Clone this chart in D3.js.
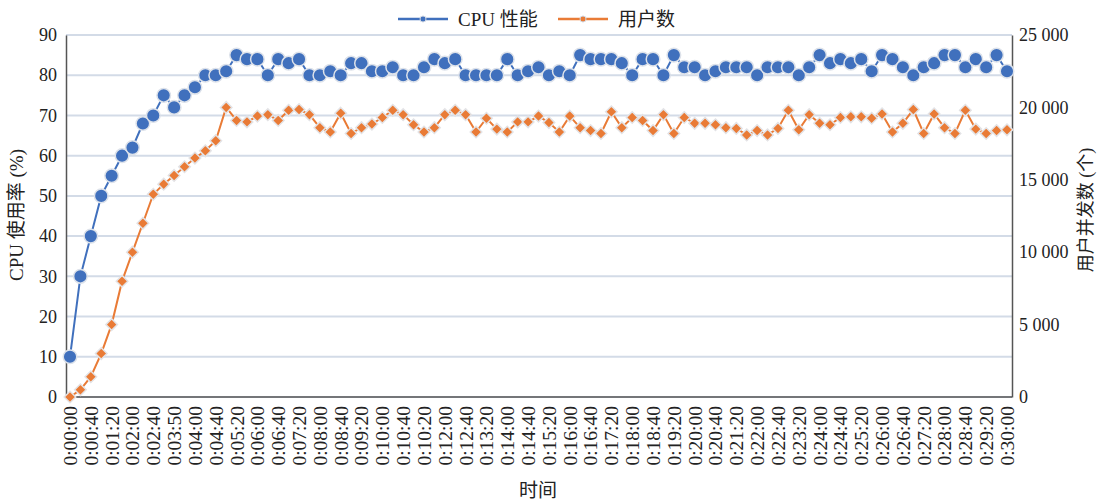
<!DOCTYPE html>
<html>
<head>
<meta charset="utf-8">
<script src="https://cdn.jsdelivr.net/npm/d3@7"></script>
<style>
  body { margin: 0; background: #fff; }
  svg text { font-family: "Liberation Serif", "Noto Sans CJK SC", serif; fill: #222; }
</style>
</head>
<body>
<div id="chart"></div>
<script>
// часові мітки (кожні 20 с), дві з них у підписах мають опечатки як в оригіналі
const times = [
  "0:00:00","0:00:20","0:00:40","0:01:00","0:01:20","0:01:40","0:02:00","0:02:20","0:02:40","0:03:00",
  "0:03:50","0:03:40","0:04:00","0:04:20","0:04:40","0:05:00","0:05:20","0:05:40","0:06:00","0:06:20",
  "0:06:40","0:07:00","0:07:20","0:07:40","0:08:00","0:08:20","0:08:40","0:09:00","0:09:20","0:09:40",
  "0:10:00","0:10:20","0:10:40","0:11:00","0:10:20","0:11:40","0:12:00","0:12:20","0:12:40","0:13:00",
  "0:13:20","0:13:40","0:14:00","0:14:20","0:14:40","0:15:00","0:15:20","0:15:40","0:16:00","0:16:20",
  "0:16:40","0:17:00","0:17:20","0:17:40","0:18:00","0:18:20","0:18:40","0:19:00","0:19:20","0:19:40",
  "0:20:00","0:20:20","0:20:40","0:21:00","0:21:20","0:21:40","0:22:00","0:22:20","0:22:40","0:23:00",
  "0:23:20","0:23:40","0:24:00","0:24:20","0:24:40","0:25:00","0:25:20","0:25:40","0:26:00","0:26:20",
  "0:26:40","0:27:00","0:27:20","0:27:40","0:28:00","0:28:20","0:28:40","0:29:00","0:29:20","0:29:40",
  "0:30:00"
];

const cpu = [
  10,30,40,50,55,60,62,68,70,75,
  72,75,77,80,80,81,85,84,84,80,
  84,83,84,80,80,81,80,83,83,81,
  81,82,80,80,82,84,83,84,80,80,
  80,80,84,80,81,82,80,81,80,85,
  84,84,84,83,80,84,84,80,85,82,
  82,80,81,82,82,82,80,82,82,82,
  80,82,85,83,84,83,84,81,85,84,
  82,80,82,83,85,85,82,84,82,85,
  81
];

const users = [
  0,500,1400,3000,5000,8000,10000,12000,14000,14700,
  15300,15900,16500,17000,17700,20000,19100,19000,19400,19500,
  19100,19800,19850,19500,18600,18300,19600,18200,18600,18850,
  19300,19800,19500,18800,18300,18600,19500,19800,19500,18300,
  19250,18500,18300,19000,19000,19400,18950,18300,19400,18600,
  18400,18200,19700,18600,19300,19100,18400,19500,18200,19300,
  18900,18900,18800,18600,18550,18100,18400,18100,18550,19800,
  18450,19500,18900,18800,19300,19350,19350,19250,19550,18300,
  18900,19850,18200,19550,18600,18200,19800,18500,18200,18400,
  18450
];

const seriesNames = ["CPU 性能", "用户数"];
const leftTicks = [0,10,20,30,40,50,60,70,80,90];
const rightTicks = [0,5000,10000,15000,20000,25000];

const W = 1105, H = 502;
const plot = {left: 66, right: 1012, top: 35, bottom: 397};
const blue = "#4070bd", orange = "#e97b36";

const svg = d3.select("#chart").append("svg")
  .attr("width", W).attr("height", H);

const x = d3.scalePoint().domain(d3.range(times.length)).range([70, 1007]);
const yL = d3.scaleLinear().domain([0, 90]).range([plot.bottom, plot.top]);
const yR = d3.scaleLinear().domain([0, 25000]).range([plot.bottom, plot.top]);

// сітка
svg.append("g").selectAll("line").data(leftTicks).join("line")
  .attr("x1", plot.left).attr("x2", plot.right)
  .attr("y1", d => yL(d)).attr("y2", d => yL(d))
  .attr("stroke", "#d3dbe7").attr("stroke-width", 2);

// осі
const fmtR = v => d3.format(",")(v).replace(/,/g, " ");

const axL = svg.append("g").attr("transform", `translate(${plot.left},0)`)
  .call(d3.axisLeft(yL).tickValues(leftTicks).tickSize(0).tickPadding(9));
const axR = svg.append("g").attr("transform", `translate(${plot.right},0)`)
  .call(d3.axisRight(yR).tickValues(rightTicks).tickSize(0).tickPadding(7).tickFormat(fmtR));
const axB = svg.append("g").attr("transform", `translate(0,${plot.bottom})`)
  .call(d3.axisBottom(x).tickValues(d3.range(0, times.length, 2)).tickSize(0).tickFormat(i => times[i]));

[axL, axR].forEach(g => {
  g.select(".domain").attr("stroke", "#555").attr("stroke-width", 1.5);
  g.selectAll("text").attr("font-size", 18).attr("font-family", "Liberation Serif").attr("fill", "#222");
});
axB.select(".domain").remove();
axB.selectAll("text")
  .attr("font-size", 19.5).attr("font-family", "Liberation Serif").attr("fill", "#222")
  .attr("transform", "rotate(-90)")
  .attr("text-anchor", "end")
  .attr("x", -9).attr("y", 0).attr("dy", "0.33em");
svg.append("line").attr("x1", plot.left).attr("x2", plot.right)
  .attr("y1", plot.bottom).attr("y2", plot.bottom)
  .attr("stroke", "#555").attr("stroke-width", 1.5);

// лінії
const lineL = d3.line().x((d, i) => x(i)).y(d => yL(d));
const lineR = d3.line().x((d, i) => x(i)).y(d => yR(d));

svg.append("path").datum(users).attr("d", lineR)
  .attr("fill", "none").attr("stroke", orange).attr("stroke-width", 2);
svg.append("path").datum(cpu).attr("d", lineL)
  .attr("fill", "none").attr("stroke", blue).attr("stroke-width", 2);

// маркери
const diamond = d3.symbol().type(d3.symbolDiamond2).size(85);
svg.append("g").selectAll("path").data(users).join("path")
  .attr("d", diamond)
  .attr("transform", (d, i) => `translate(${x(i)},${yR(d)})`)
  .attr("fill", orange).attr("stroke", "#e3e3e6").attr("stroke-width", 1.5);

svg.append("g").selectAll("circle").data(cpu).join("circle")
  .attr("cx", (d, i) => x(i)).attr("cy", d => yL(d)).attr("r", 6.8)
  .attr("fill", blue).attr("stroke", "#dde2ea").attr("stroke-width", 1.5);

// легенда
const legend = [
  {name: seriesNames[0], color: blue, x0: 398},
  {name: seriesNames[1], color: orange, x0: 558}
];
const lg = svg.append("g").selectAll("g").data(legend).join("g")
  .attr("transform", d => `translate(${d.x0},19)`);
lg.append("line").attr("x1", 0).attr("x2", 50).attr("y1", 0).attr("y2", 0)
  .attr("stroke", d => d.color).attr("stroke-width", 2.5);
lg.append("circle").attr("cx", 25).attr("r", 3).attr("fill", d => d.color)
  .attr("stroke", "#cfd6e2").attr("stroke-width", 1);
lg.append("text").attr("x", 60).attr("dy", "0.35em")
  .attr("font-size", 19).text(d => d.name);

// підписи осей
svg.append("text")
  .attr("transform", `translate(23,215) rotate(-90)`)
  .attr("text-anchor", "middle").attr("font-size", 19)
  .text("CPU 使用率 (%)");
svg.append("text")
  .attr("transform", `translate(1092,210) rotate(-90)`)
  .attr("text-anchor", "middle").attr("font-size", 18)
  .text("用户并发数 (个)");
svg.append("text")
  .attr("x", 538).attr("y", 497)
  .attr("text-anchor", "middle").attr("font-size", 19)
  .text("时间");
</script>
</body>
</html>
